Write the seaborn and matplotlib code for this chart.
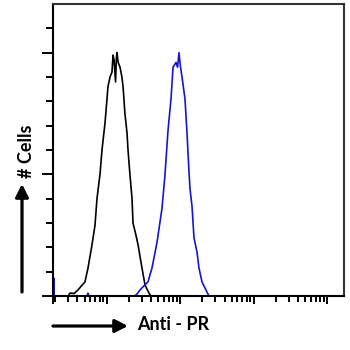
import numpy as np
import pandas as pd
import matplotlib
matplotlib.use("Agg")
import matplotlib.pyplot as plt
from matplotlib.ticker import FixedLocator, NullFormatter
import seaborn as sns

# ---- data (fluorescence channel, cell count) ----
control_x = [2.5, 3.0, 3.17, 3.6, 4.07, 5.07, 5.57, 6.31, 6.93, 7.38, 8.11, 8.63, 9.48,
             10.1, 10.4, 11.1, 11.8, 12.2, 12.6, 13.2, 13.5, 13.8, 14.3, 15.2, 16.1,
             16.7, 17.7, 18.9, 19.5, 20.7, 22.1, 22.8, 25.0, 26.7, 30.2, 33.2, 37.6, 40.0]
control_count = [0, 0, 1.2, 1.0, 2.5, 5.8, 11.5, 21, 29, 40, 50, 60, 71,
                 81, 86, 90, 92, 99, 97, 88, 97, 100, 96, 94, 90,
                 86, 75, 67, 60, 50, 40, 30, 25, 21, 11.5, 4.5, 1.2, 0]

pr_x = [1.90, 1.905, 1.915, 5.4, 5.57, 5.75, 24.0, 25.8, 28.4, 36.4, 41.3, 48.3,
        56.5, 62.1, 68.2, 74.9, 79.8, 87.7, 92.0, 96.2, 100.0, 105.7, 116.1, 123.6,
        131.6, 135.8, 144.5, 153.8, 169.1, 179.9, 197.7, 231.2, 246.0]
pr_count = [0, 7.4, 0, 0, 1.2, 0, 0, 0.8, 2.5, 5.8, 11.5, 22,
            36, 50, 68, 81, 94, 96, 94, 100, 95, 90, 81, 67,
            51, 44, 37, 24, 18, 11.5, 5.8, 1.6, 0]

x_label = "Anti - PR"
y_label = "# Cells"

# ---- figure ----
sns.set_style("white")
plt.rcParams['font.family'] = ['Lato', 'DejaVu Sans']

fig = plt.figure(figsize=(3.5, 3.5), dpi=100)
ax = fig.add_axes([53 / 350, 54 / 350, 290.5 / 350, 292 / 350])

df_c = pd.DataFrame({"x": control_x, "y": control_count})
df_p = pd.DataFrame({"x": pr_x, "y": pr_count})
sns.lineplot(data=df_c, x="x", y="y", ax=ax, color="black", lw=1.2,
             estimator=None, sort=False)
sns.lineplot(data=df_p, x="x", y="y", ax=ax, color="#1515d0", lw=1.2,
             estimator=None, sort=False)

ax.set_xscale("log")
xmin, xmax = 10 ** 0.27, 10 ** 4.22
ax.set_xlim(xmin, xmax)
ax.set_ylim(0, 120)

ax.xaxis.set_major_locator(FixedLocator([xmin, 10, 100, 1000, 10000]))
minor_x = [m * 10 ** d for d in range(0, 4) for m in range(2, 10) if xmin < m * 10 ** d < xmax]
ax.xaxis.set_minor_locator(FixedLocator(minor_x))
ax.yaxis.set_major_locator(FixedLocator([0, 50, 100]))
ax.yaxis.set_minor_locator(FixedLocator([10, 20, 30, 40, 60, 70, 80, 90, 110]))
ax.xaxis.set_major_formatter(NullFormatter())
ax.xaxis.set_minor_formatter(NullFormatter())
ax.yaxis.set_major_formatter(NullFormatter())
ax.yaxis.set_minor_formatter(NullFormatter())

ax.tick_params(axis="x", which="major", direction="out", length=6, width=1.4, color="black", bottom=True)
ax.tick_params(axis="x", which="minor", direction="out", length=4, width=1.4, color="black", bottom=True)
ax.tick_params(axis="y", which="major", direction="out", length=8, width=1.4, color="black", left=True)
ax.tick_params(axis="y", which="minor", direction="out", length=5, width=1.4, color="black", left=True)

for side in ["left", "right", "top", "bottom"]:
    ax.spines[side].set_visible(True)
    ax.spines[side].set_color("black")
    ax.spines[side].set_linewidth(1.5)
ax.spines["right"].set_color("#333333")
ax.spines["top"].set_color("#333333")

ax.set_xlabel("")
ax.set_ylabel("")

# axis labels with arrows (flow cytometry style)
arrow_kw = dict(arrowstyle="-|>,head_length=0.55,head_width=0.28", lw=2.3,
                color="black", shrinkA=0, shrinkB=0, mutation_scale=14)
ax.annotate("", xy=(128, 24), xytext=(53, 24), xycoords="figure pixels",
            textcoords="figure pixels", arrowprops=arrow_kw)
ax.annotate("", xy=(22, 166), xytext=(22, 58), xycoords="figure pixels",
            textcoords="figure pixels", arrowprops=arrow_kw)

fig.text(173 / 350, 26 / 350, x_label, ha="center", va="center",
         fontsize=13, fontweight="bold", color="black")
fig.text(27 / 350, 199 / 350, y_label, ha="center", va="center",
         rotation=90, fontsize=13, fontweight="bold", color="black")

fig.savefig("out.png", dpi=100)
